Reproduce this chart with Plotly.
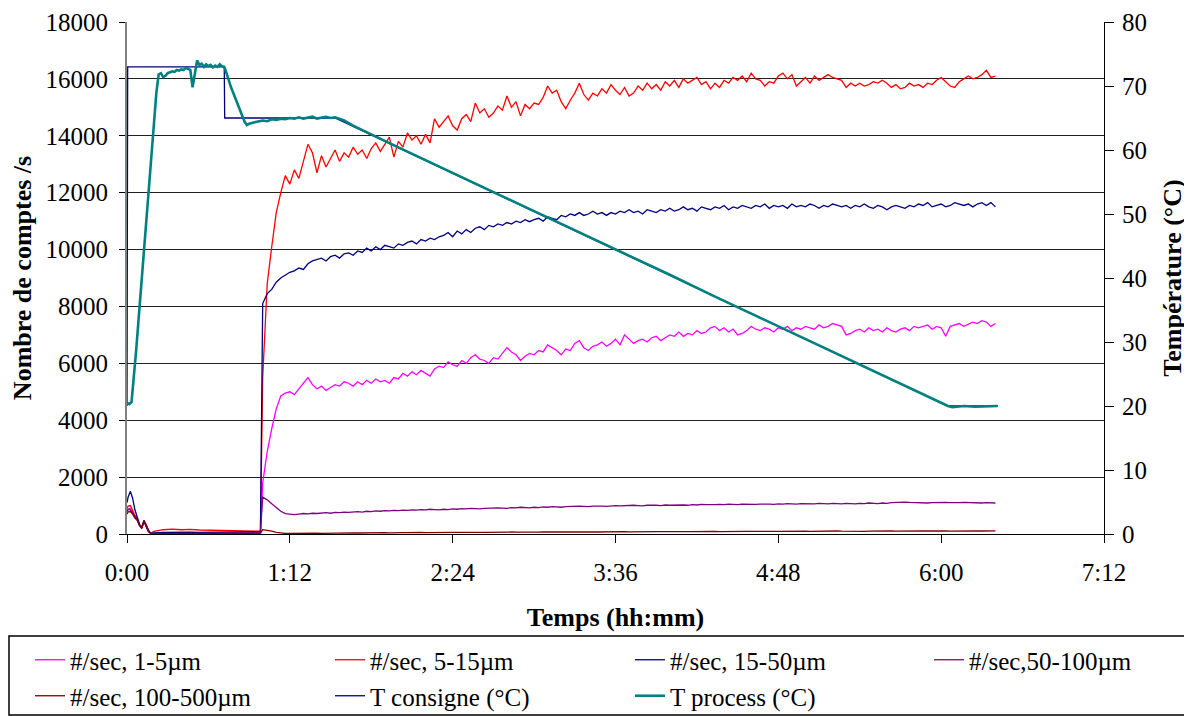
import numpy as np
import plotly.graph_objects as go

# --- data (minutes since start) ---
early_t = [0, 0.5, 1.5, 2.5, 3.5, 4.5, 5.5, 6.5, 7.5, 8.5, 9.5, 10.5, 12,
           16, 20, 24, 28, 32, 36, 40, 44, 48, 52, 56, 59]
late_t0, late_step = 60, 2

red_early = [900, 980, 1000, 820, 650, 560, 320, 240, 480, 330, 120, 30, 90,
             150, 170, 150, 160, 140, 130, 125, 115, 110, 100, 95, 100]
navy_early = [1100, 1300, 1500, 1250, 850, 600, 350, 200, 480, 250, 80, 20, 40,
              60, 70, 60, 65, 55, 60, 60, 55, 60, 65, 60, 80]
mag_early = [780, 850, 900, 750, 600, 520, 330, 230, 450, 320, 110, 20, 20,
             30, 25, 30, 25, 30, 25, 30, 25, 30, 25, 30, 40]
purple_early = [800, 880, 850, 720, 580, 500, 300, 210, 420, 300, 100, 15, 15,
                20, 15, 20, 15, 20, 15, 20, 15, 20, 15, 20, 30]
dred_early = [700, 780, 790, 700, 560, 480, 300, 200, 430, 290, 100, 10, 10,
              15, 10, 15, 10, 15, 10, 15, 10, 15, 10, 15, 20]

red_late = [
    5500, 8800, 10100, 11300, 12000, 12600, 12300, 12800, 12500, 13100,
    13700, 13400, 12700, 13300, 12900, 13200, 13500, 13100, 13400, 13250,
    13600, 13350, 13500, 13200, 13550, 13750, 13450, 13700, 13950, 13250,
    13800, 13600, 14100, 13850, 14000, 13700, 14050, 13750, 14600, 14300,
    14500, 14700, 14350, 14200, 14600, 14750, 14500, 15150, 14800, 14950,
    14650, 14800, 15050, 14900, 15400, 15000, 15200, 14700, 15100, 14950,
    15150, 15100, 15350, 15750, 15500, 15600, 15200, 14950, 15250, 15500,
    15850, 15450, 15250, 15500, 15400, 15650, 15500, 15800, 15600, 15450,
    15700, 15400, 15500, 15750, 15600, 15850, 15650, 15800, 15600, 15900,
    15750, 15950, 15700, 16000, 15850, 15950, 16050, 15800, 15900, 15650,
    15850, 15700, 15950, 15850, 16050, 15950, 16100, 15900, 16200, 16000,
    15950, 15750, 15900, 15850, 16100, 16200, 16000, 16150, 15750, 15900,
    16050, 15850, 16100, 15950, 16050, 16150, 16050, 16000, 15950, 15700,
    15850, 15750, 15850, 15750, 15800, 15900, 15850, 15950, 15850, 15700,
    15800, 15650, 15700, 15850, 15750, 15800, 15700, 15850, 15800, 15950,
    16050, 15900, 15750, 15700, 15900, 16000, 16100, 16000, 16050, 16150,
    16300, 16050, 16100]

navy_late = [
    8100, 8450, 8600, 8850, 9000, 9100, 9200, 9250, 9350, 9300,
    9500, 9600, 9650, 9700, 9600, 9750, 9800, 9700, 9850, 9880,
    9800, 9950, 9900, 10050, 9950, 10100, 10000, 10150, 10100, 10050,
    10200, 10150, 10250, 10300, 10200, 10350, 10300, 10400, 10350, 10450,
    10500, 10600, 10450, 10650, 10550, 10700, 10600, 10750, 10800, 10700,
    10850, 10800, 10900, 10850, 10950, 10900, 11000, 10950, 11050, 10980,
    11050, 11100, 11000, 11150, 11100, 11050, 11200, 11150, 11250, 11200,
    11300, 11200, 11250, 11350, 11250, 11300, 11200, 11300, 11250, 11350,
    11300, 11400, 11300, 11350, 11250, 11400, 11350, 11300, 11400, 11350,
    11450, 11350, 11400, 11500, 11400, 11450, 11350, 11500, 11450, 11400,
    11500, 11450, 11550, 11400, 11500, 11450, 11550, 11500, 11450, 11550,
    11500, 11600, 11450, 11550, 11500, 11550, 11450, 11600, 11500, 11550,
    11500, 11600, 11550, 11450, 11550, 11500, 11600, 11550, 11500, 11550,
    11450, 11550, 11500, 11600, 11500, 11450, 11550, 11500, 11400, 11500,
    11550, 11500, 11450, 11550, 11500, 11600, 11550, 11650, 11500, 11550,
    11600, 11500, 11550, 11650, 11600, 11550, 11600, 11500, 11600, 11650,
    11550, 11650, 11500]

mag_late = [
    1800, 2900, 3700, 4400, 4850, 4950, 5000, 4900, 5100, 5300,
    5500, 5250, 5100, 5200, 5050, 5150, 5250, 5200, 5350, 5300,
    5200, 5350, 5250, 5400, 5300, 5450, 5350, 5400, 5300, 5500,
    5450, 5650, 5550, 5700, 5600, 5750, 5650, 5550, 5800, 5900,
    5850, 6050, 5950, 5900, 6100, 6000, 6200, 6300, 6150, 6100,
    6000, 6200, 6150, 6350, 6550, 6400, 6300, 6100, 6250, 6350,
    6300, 6450, 6400, 6650, 6550, 6450, 6300, 6500, 6450, 6700,
    6800, 6550, 6450, 6600, 6650, 6750, 6600, 6700, 6850, 6650,
    7000, 6850, 6700, 6800, 6850, 6750, 6900, 6950, 6800, 6900,
    7000, 6950, 7100, 6950, 7050, 7000, 7150, 7050, 7100, 7250,
    7300, 7150, 7250, 7100, 7200, 7000, 7050, 7150, 7300, 7200,
    7150, 7250, 7200, 7100, 7250, 7200, 7300, 7150, 7250, 7200,
    7300, 7250, 7200, 7350, 7250, 7300, 7400, 7350, 7300, 7000,
    7050, 7150, 7200, 7100, 7250, 7150, 7200, 7100, 7250, 7150,
    7100, 7200, 7250, 7150, 7300, 7250, 7300, 7350, 7200, 7300,
    7250, 6950, 7300, 7350, 7400, 7300, 7380, 7450, 7400, 7500,
    7450, 7300, 7400]

purple_late = [
    1300, 1200, 1060, 920, 800, 720, 690, 680, 700, 720,
    710, 730, 720, 740, 750, 730, 760, 750, 770, 760,
    780, 790, 770, 800, 790, 810, 800, 820, 810, 830,
    820, 840, 830, 850, 840, 860, 850, 870, 860, 850,
    870, 860, 880, 870, 890, 880, 900, 890, 880, 900,
    910, 900, 920, 910, 900, 930, 920, 940, 930, 920,
    940, 930, 950, 940, 960, 950, 940, 960, 970, 960,
    980, 970, 960, 980, 990, 980, 970, 990, 1000, 990,
    1000, 990, 1010, 1000, 990, 1010, 1020, 1010, 1000, 1020,
    1010, 1020, 1030, 1020, 1010, 1030, 1020, 1040, 1030, 1020,
    1030, 1040, 1030, 1050, 1040, 1030, 1050, 1040, 1050, 1040,
    1050, 1060, 1050, 1040, 1060, 1050, 1070, 1060, 1050, 1070,
    1060, 1070, 1060, 1080, 1070, 1060, 1080, 1070, 1060, 1080,
    1070, 1060, 1080, 1070, 1090, 1080, 1070, 1090, 1080, 1100,
    1110, 1100, 1120, 1110, 1100, 1110, 1100, 1090, 1100, 1110,
    1100, 1110, 1100, 1090, 1100, 1110, 1100, 1090, 1100, 1090,
    1100, 1090, 1090]

dred_late = [
    150, 130, 100, 60, 35, 25, 20, 25, 20, 25,
    30, 25, 30, 25, 30, 35, 30, 35, 30, 35,
    40, 35, 40, 35, 40, 45, 40, 45, 40, 45,
    50, 45, 50, 45, 50, 55, 50, 55, 50, 55,
    50, 55, 60, 55, 60, 55, 60, 65, 60, 55,
    60, 65, 60, 65, 60, 70, 65, 60, 70, 65,
    70, 65, 70, 75, 70, 65, 70, 75, 70, 75,
    70, 75, 80, 75, 70, 75, 80, 75, 80, 75,
    80, 75, 80, 85, 80, 75, 80, 85, 80, 85,
    80, 85, 90, 85, 80, 85, 90, 85, 90, 85,
    90, 85, 90, 95, 90, 85, 90, 95, 90, 95,
    90, 95, 100, 95, 90, 95, 100, 95, 100, 95,
    100, 95, 100, 105, 100, 95, 100, 105, 100, 95,
    100, 105, 100, 95, 100, 105, 110, 105, 100, 105,
    100, 105, 110, 105, 100, 105, 110, 105, 110, 105,
    110, 105, 100, 105, 110, 105, 110, 115, 110, 105,
    110, 105, 110]

consigne_t = [0, 0.3, 43, 43.2, 92, 363, 385]
consigne_v = [20, 73, 73, 65, 65, 20, 20]

process_t = [0, 1, 2, 3, 4, 5, 6, 7, 8, 9, 10, 11, 12, 13, 14, 15, 16, 17, 18,
             19, 20, 21, 22, 23, 24, 25, 26, 27, 28, 29, 30, 31, 32, 33, 34, 35,
             36, 37, 38, 39, 40, 41, 42, 43, 44, 45, 46, 47, 48, 49, 50, 51, 52,
             53, 54, 56, 58, 60, 62, 64, 66, 68, 70, 72, 74, 76, 78, 80, 82, 84,
             86, 88, 90, 92, 96, 100, 120, 140, 160, 180, 200, 220, 240, 260,
             280, 300, 320, 340, 363, 365, 370, 375, 380, 385]
process_v = [20.5, 20.3, 20.6, 24, 28.5, 33, 37.5, 42, 46.5, 51, 55.5, 60, 64.5,
             69, 71.8, 72.0, 71.4, 71.6, 72.0, 72.1, 72.3, 72.2, 72.5, 72.4,
             72.6, 72.5, 72.8, 72.7, 72.5, 69.8, 72.0, 74.0, 73.3, 73.5, 73.0,
             73.4, 73.1, 73.3, 72.9, 73.2, 73.0, 73.4, 73.1, 73.0, 72.0, 70.8,
             69.8, 68.9, 68.0, 67.1, 66.2, 65.3, 64.4, 63.9, 64.1, 64.3, 64.4,
             64.6, 64.5, 64.8, 64.7, 64.9, 64.8, 65.0, 64.9, 65.1, 64.9, 65.0,
             65.2, 64.9, 65.1, 65.2, 65.0, 65.1, 64.6, 63.8, 60.4, 57.1, 53.8,
             50.5, 47.1, 43.8, 40.5, 37.1, 33.8, 30.5, 27.2, 23.8, 20.0, 19.8,
             20.0, 19.9, 20.0, 20.0]

tick_minutes = [0, 72, 144, 216, 288, 360, 432]
tick_labels = ["0:00", "1:12", "2:24", "3:36", "4:48", "6:00", "7:12"]


def full_series(early, late):
    t = list(early_t) + list(late_t0 + late_step * np.arange(len(late)))
    return t, list(early) + list(late)


FONT = "Liberation Serif, Times New Roman, serif"

# page is offset by the 8px body margin; work in page pixels
OFF = 8
W, H = 1192 - OFF, 716 - OFF
L, R, T, B = 127 - OFF, 1104 - OFF, 22 - OFF, 534 - OFF
pw, ph = R - L, B - T


def px_x(p):
    return (p - OFF - L) / pw


def px_y(p):
    return (B - (p - OFF)) / ph


# legend slot per entry: (column left, row top) in page pixels
legend_cols = [30, 330, 630, 929]
legend_rows = [637, 673]

fig = go.Figure()

count_series = [
    ("#/sec, 1-5µm", mag_early, mag_late, "#FF00FF"),
    ("#/sec, 5-15µm", red_early, red_late, "#FF0000"),
    ("#/sec, 15-50µm", navy_early, navy_late, "#000080"),
    ("#/sec,50-100µm", purple_early, purple_late, "#800080"),
    ("#/sec, 100-500µm", dred_early, dred_late, "#800000"),
]
for i, (name, e, l, col) in enumerate(count_series):
    t, v = full_series(e, l)
    fig.add_trace(go.Scatter(x=t, y=v, mode="lines", name=name,
                             legend="legend" if i == 0 else f"legend{i + 1}",
                             line=dict(color=col, width=1.3)))

fig.add_trace(go.Scatter(x=consigne_t, y=consigne_v, mode="lines", name="T consigne (°C)",
                         yaxis="y2", legend="legend6", line=dict(color="#000080", width=1.3)))
fig.add_trace(go.Scatter(x=process_t, y=process_v, mode="lines", name="T process (°C)",
                         yaxis="y2", legend="legend7", line=dict(color="#008080", width=2.6)))

fig.add_shape(type="rect", xref="paper", yref="paper",
              x0=px_x(OFF + 1), x1=px_x(1190), y0=px_y(636), y1=px_y(715),
              line=dict(color="black", width=1.5), fillcolor="rgba(0,0,0,0)")

legends = {}
for i in range(7):
    key = "legend" if i == 0 else f"legend{i + 1}"
    legends[key] = dict(x=px_x(legend_cols[i % 4]), xanchor="left",
                        y=px_y(legend_rows[i // 4]), yanchor="top",
                        font=dict(size=25), bgcolor="rgba(0,0,0,0)", borderwidth=0)

fig.update_layout(
    width=W, height=H,
    margin=dict(l=L, r=W - R, t=T, b=H - B, autoexpand=False),
    paper_bgcolor="white", plot_bgcolor="white",
    font=dict(family=FONT, size=25, color="black"),
    showlegend=True,
    xaxis=dict(range=[0, 432], tickvals=tick_minutes, ticktext=tick_labels,
               showgrid=False, zeroline=False, showline=True, linecolor="black", linewidth=1,
               ticks="outside", ticklen=8, tickcolor="black", ticklabelstandoff=8,
               title=dict(text="<b>Temps (hh:mm)</b>", standoff=22, font=dict(size=26))),
    yaxis=dict(range=[0, 18000], dtick=2000, tickformat="d", showgrid=True,
               gridcolor="#202020", gridwidth=1,
               zeroline=False, showline=True, linecolor="#808080", linewidth=2,
               ticks="outside", ticklen=6, tickcolor="black", ticklabelstandoff=6,
               title=dict(text="<b>Nombre de comptes /s</b>", standoff=8, font=dict(size=26))),
    yaxis2=dict(range=[0, 80], dtick=10, overlaying="y", side="right", showgrid=False,
                zeroline=False, showline=True, linecolor="black", linewidth=1,
                ticks="outside", ticklen=9, tickcolor="black", ticklabelstandoff=3,
                title=dict(text="<b>Température (°C)</b>", standoff=16, font=dict(size=26))),
    **legends,
)

fig.write_html("out.html")
